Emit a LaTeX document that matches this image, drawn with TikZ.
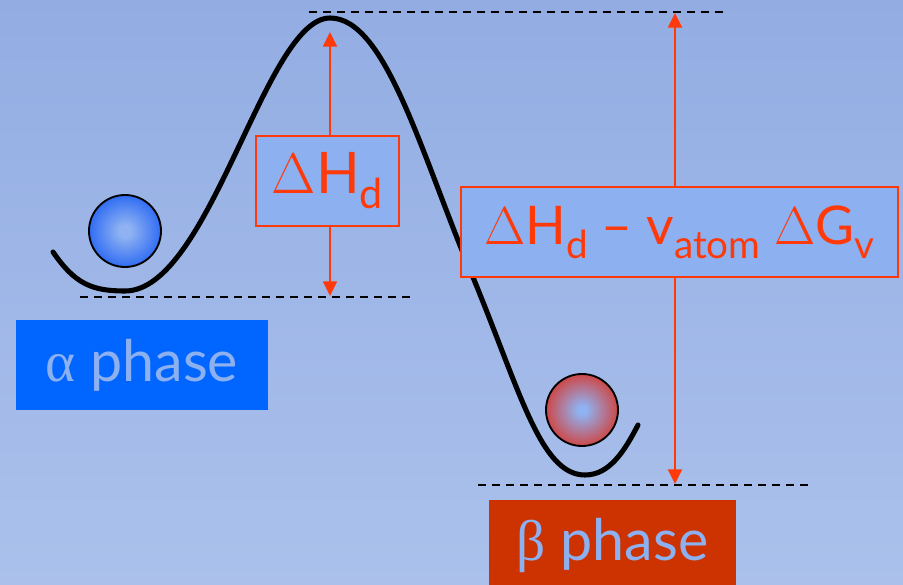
\RequirePackage{fix-cm}
\documentclass[tikz,border=0pt]{standalone}
\usepackage{fontspec}
\setmainfont{Lato}
\newfontfamily\greekfont{Liberation Serif}
\usetikzlibrary{arrows.meta,positioning}

\definecolor{skytop}{HTML}{93ADE3}
\definecolor{skybot}{HTML}{ABC1EC}
\definecolor{labelred}{HTML}{FF3A0A}
\definecolor{boxblue}{HTML}{8CB0F0}
\definecolor{alphablue}{HTML}{0066FF}
\definecolor{betared}{HTML}{CC3300}
\definecolor{ballcore}{HTML}{8FB2F2}
\definecolor{blueedge}{HTML}{1F60F4}
\definecolor{rededge}{HTML}{D8352A}

\pgfdeclareradialshading{blueball}{\pgfpoint{0bp}{0bp}}{color(0bp)=(ballcore); color(4bp)=(ballcore); color(29bp)=(blueedge); color(50bp)=(blueedge)}
\pgfdeclareradialshading{redball}{\pgfpoint{0bp}{0bp}}{color(0bp)=(ballcore); color(3bp)=(ballcore); color(29bp)=(rededge); color(50bp)=(rededge)}

\newcommand{\lowtxt}[2][31]{\raisebox{-0.26em}{\fontsize{#1}{#1}\selectfont #2}}

\tikzset{
  energybox/.style={draw=labelred, line width=1.1pt, fill=boxblue, text=labelred,
    minimum height=67.5pt, inner sep=0pt, font=\fontsize{43}{43}\selectfont},
  phasebox/.style={minimum height=67.5pt, inner sep=0pt, text=boxblue,
    font=\fontsize{43}{43}\selectfont},
  ball/.style={circle, draw=black, line width=1.4pt, minimum size=54pt, inner sep=0pt},
  level/.style={black, line width=1.1pt, dash pattern=on 6pt off 4.5pt},
  gap/.style={labelred, line width=1.5pt, -{Triangle[width=10.5pt,length=11pt]}},
}

\begin{document}
\begin{tikzpicture}[x=0.75pt,y=-0.75pt]
  \shade[top color=skytop, bottom color=skybot] (0,0) rectangle (903,585);
  \useasboundingbox (0,0) rectangle (903,585);

  % energy levels
  \coordinate (topA) at (309,12);
  \coordinate (topB) at (726,12);
  \coordinate (alphaA) at (80,297);
  \coordinate (alphaB) at (410,297);
  \coordinate (betaA) at (478,485);
  \coordinate (betaB) at (808,485);
  \draw[level] (topA) -- (topB);
  \draw[level] (alphaA) -- (alphaB);
  \draw[level] (betaA) -- (betaB);

  % energy curve
  \draw[black, line width=3.8pt, line cap=round, line join=round]
    (53,252) .. controls (75,284) and (92,291) .. (125,291)
    .. controls (210,291) and (265,18) .. (330,18)
    .. controls (385,18) and (420,150) .. (470,270)
    .. controls (520,390) and (540,475) .. (585,475)
    .. controls (610,475) and (625,450) .. (638,425);

  % balls
  \node[ball, shading=blueball] (alphaball) at (125,231) {};
  \node[ball, shading=redball] (betaball) at (582,410) {};

  % barriers
  \node[energybox, minimum width=107.25pt] (dH) at (327.5,181) {$\Delta$H\lowtxt{d}};
  \node[energybox, minimum width=327.75pt, font=\fontsize{40}{40}\selectfont] (dHG) at (679.5,232)
    {$\Delta$H\lowtxt[29]{d} -- v\lowtxt[29]{atom} $\Delta$G\lowtxt[29]{v}};

  \coordinate (dHtop) at (330,32);
  \coordinate (dHbot) at (330,296);
  \coordinate (dHGtop) at (675,13);
  \coordinate (dHGbot) at (675,484);
  \draw[gap] (dH.north -| dHtop) -- (dHtop);
  \draw[gap] (dH.south -| dHbot) -- (dHbot);
  \draw[gap] (dHG.north -| dHGtop) -- (dHGtop);
  \draw[gap] (dHG.south -| dHGbot) -- (dHGbot);

  % phases
  \node[phasebox, fill=alphablue, minimum width=189pt] (alpha) at (142,365) {{\greekfont α} phase};
  \node[phasebox, fill=betared, minimum width=185.25pt] (beta) at (612.5,545) {{\greekfont β} phase};
\end{tikzpicture}
\end{document}
